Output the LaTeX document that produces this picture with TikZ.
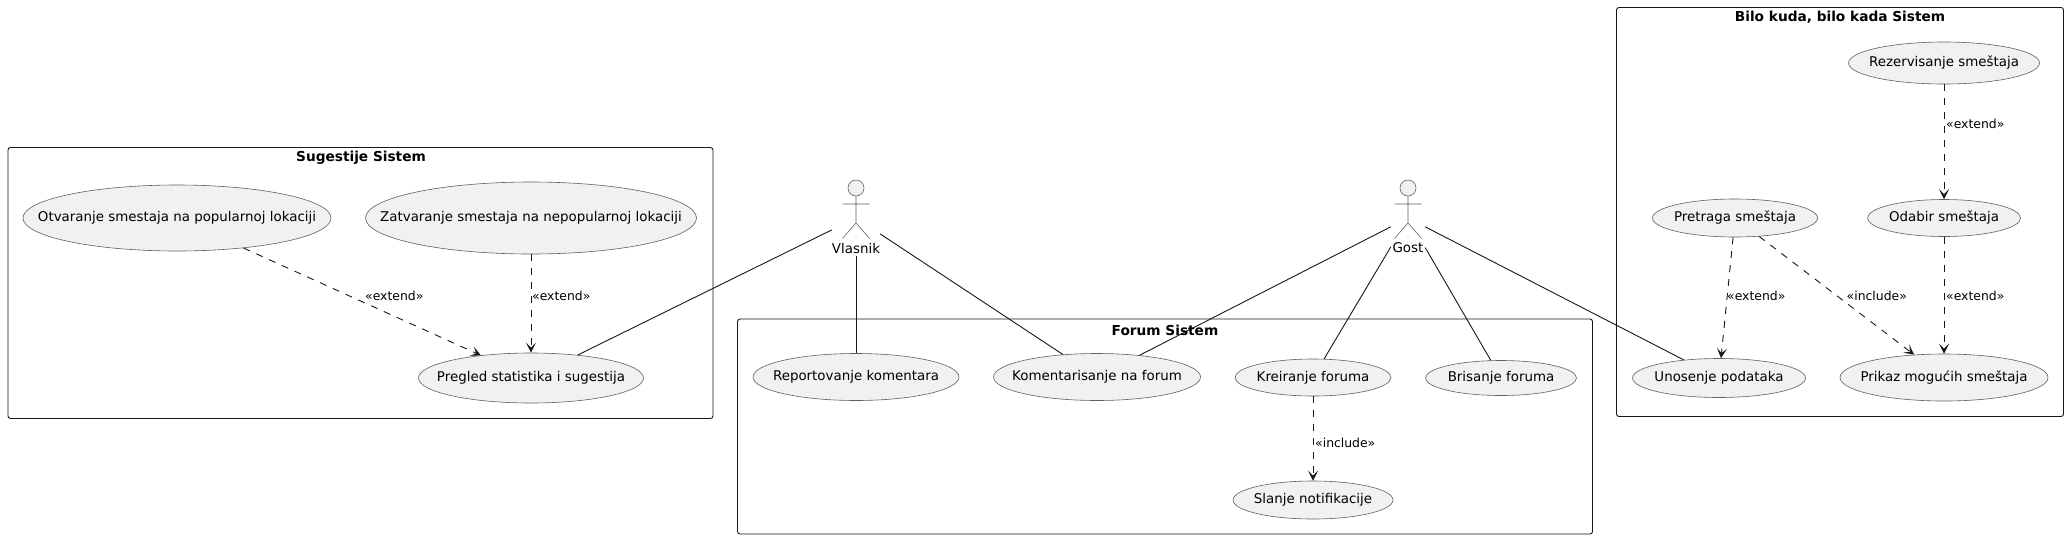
\documentclass[tikz,border=0pt]{standalone}
\usepackage{fontspec}
\setmainfont{DejaVu Sans}
\usetikzlibrary{shapes.geometric,arrows.meta,calc}
\definecolor{ink}{HTML}{181818}
\definecolor{thin}{HTML}{606060}
\definecolor{uc}{HTML}{F1F1F1}
\tikzset{
  x=1pt,y=-1pt,
  sysbox/.style={draw=ink,line width=0.9pt,rounded corners=2.5pt,fill=white},
  systitle/.style={font=\fontsize{13.7}{15}\selectfont\bfseries,inner sep=0pt,text=black},
  usecase/.style={ellipse,draw=thin,line width=0.6pt,fill=uc,inner sep=0pt,font=\fontsize{13.4}{15}\selectfont,text=black},
  actorbox/.style={rectangle,inner sep=0pt,minimum width=#1,minimum height=76pt},
  actorlabel/.style={font=\fontsize{13.4}{15}\selectfont,inner sep=0pt},
  actorline/.style={draw=thin,line width=0.6pt},
  assoc/.style={draw=ink,line width=0.9pt},
  dep/.style={draw=ink,line width=0.9pt,dash pattern=on 7pt off 7pt,-{Stealth[length=10pt,width=10pt,inset=5pt]}},
  deplabel/.style={font=\fontsize{12.4}{13}\selectfont,inner sep=0pt,anchor=west,text=black},
}
\newcommand{\ucnode}[6]{\node[usecase,minimum width=#4pt,minimum height=#5pt] (#1) at (#2,#3) {\makebox[0pt]{\raisebox{-.28em}[0pt][0pt]{#6}}};}
\begin{document}
\begin{tikzpicture}
\useasboundingbox (0,0) rectangle (2068,539);
\fill[white] (0,0) rectangle (2068,539);
% boundaries
\node[sysbox,minimum width=705pt,minimum height=271pt,inner sep=0pt] (sug) at (360.5,283) {};
\node[sysbox,minimum width=855pt,minimum height=215pt,inner sep=0pt] (forum) at (1165,426.5) {};
\node[sysbox,minimum width=447pt,minimum height=409pt,inner sep=0pt] (bilo) at (1840,212) {};
% use cases
\ucnode{otv}{177}{218}{308}{66}{Otvaranje smestaja na popularnoj lokaciji}
\ucnode{zat}{531}{218}{331}{72}{Zatvaranje smestaja na nepopularnoj lokaciji}
\ucnode{pre}{531}{378}{225}{50}{Pregled statistika i sugestija}
\ucnode{rep}{856}{377}{206}{47}{Reportovanje komentara}
\ucnode{kom}{1097}{377}{207}{47}{Komentarisanje na forum}
\ucnode{kre}{1313}{377.5}{156}{37}{Kreiranje foruma}
\ucnode{sla}{1313}{500}{160}{38}{Slanje notifikacije}
\ucnode{bri}{1501}{378}{151}{35}{Brisanje foruma}
\ucnode{rez}{1944}{63}{191}{42}{Rezervisanje smeštaja}
\ucnode{oda}{1944}{218}{153}{37}{Odabir smeštaja}
\ucnode{ptr}{1735}{218}{165}{38}{Pretraga smeštaja}
\ucnode{uno}{1719}{378}{173}{39}{Unosenje podataka}
\ucnode{pri}{1944}{377.5}{208}{47}{Prikaz mogućih smeštaja}
% actors
\node[actorbox=48pt] (vla) at (856,218) {};
\node[actorbox=34pt] (gos) at (1408,218) {};
\foreach \a in {vla,gos}{
  \node[circle,draw=thin,line width=0.6pt,fill=uc,minimum size=16pt,inner sep=0pt] (\a head) at ($(\a.center)+(0,-30)$) {};
  \coordinate (\a hip) at ($(\a.center)+(0,5)$);
  \coordinate (\a la) at ($(\a.center)+(-13.5,-14)$);
  \coordinate (\a ra) at ($(\a.center)+(13.5,-14)$);
  \coordinate (\a ll) at ($(\a.center)+(-13.5,20.5)$);
  \coordinate (\a rl) at ($(\a.center)+(13.5,20.5)$);
  \draw[actorline] (\a head) -- (\a hip) (\a la) -- (\a ra) (\a ll) -- (\a hip) -- (\a rl);
}
\node[actorlabel] (vlat) at (856,248) {Vlasnik};
\node[actorlabel] (gost) at (1408,248) {Gost};
% associations
\draw[assoc] (vla) -- (pre);
\draw[assoc] (vla) -- (rep);
\draw[assoc] (vla) -- (kom);
\draw[assoc] (gos) -- (kom);
\draw[assoc] (gos) -- (kre);
\draw[assoc] (gos) -- (bri);
\draw[assoc] (gos) -- (uno);
% dependencies
\draw[dep] (otv) -- (pre);
\draw[dep] (zat) -- (pre);
\draw[dep] (kre) -- (sla);
\draw[dep] (rez) -- (oda);
\draw[dep] (oda) -- (pri);
\draw[dep] (ptr) -- (uno);
\draw[dep] (ptr) -- (pri);
% labels
\node[deplabel] (l1) at (365,296) {«extend»};
\node[deplabel] (l2) at (532,296) {«extend»};
\node[deplabel] (l3) at (1315,443) {«include»};
\node[deplabel] (l4) at (1946,124) {«extend»};
\node[deplabel] (l5) at (1946,296) {«extend»};
\node[deplabel] (l6) at (1727,296) {«extend»};
\node[deplabel] (l7) at (1846.5,296) {«include»};
% titles
\node[systitle] (sugt) at (361,158) {Sugestije Sistem};
\node[systitle] (fort) at (1165,330) {Forum Sistem};
\node[systitle] (bilt) at (1840,17) {Bilo kuda, bilo kada Sistem};
\end{tikzpicture}
\end{document}
